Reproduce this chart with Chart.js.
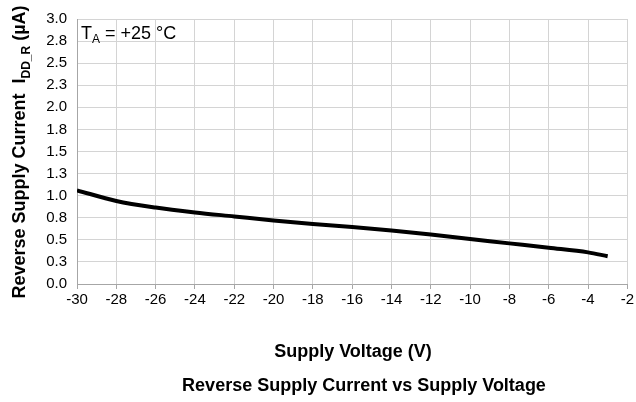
<!DOCTYPE html>
<html>
<head>
<meta charset="utf-8">
<script src="https://cdn.jsdelivr.net/npm/chart.js@4/dist/chart.umd.min.js"></script>
<style>
  html, body { margin: 0; padding: 0; background: #fff; }
  #wrap { width: 636px; height: 402px; }
</style>
</head>
<body>
<div id="wrap"><canvas id="chart" width="636" height="402"></canvas></div>
<script>
// Data
const supplyVoltage = [-30, -28, -26, -24, -22, -20, -18, -16, -14, -12, -10, -8, -6, -4, -3];
const reverseCurrent = [1.06, 0.94, 0.865, 0.81, 0.765, 0.72, 0.68, 0.645, 0.605, 0.56, 0.51, 0.46, 0.41, 0.358, 0.315];
const yTickLabels = ['0.0', '0.3', '0.5', '0.8', '1.0', '1.3', '1.5', '1.8', '2.0', '2.3', '2.5', '2.8', '3.0'];

const FONT = "'Liberation Sans', Arial, sans-serif";

// Texts that Chart.js cannot lay out itself (subscripts, fixed positions)
const labelsPlugin = {
    id: 'labels',
    afterDraw(chart) {
        const ctx = chart.ctx;
        const area = chart.chartArea;
        ctx.save();
        ctx.fillStyle = '#000';
        ctx.textBaseline = 'alphabetic';

        // T_A = +25 °C annotation
        ctx.font = '18px ' + FONT;
        let x = area.left + 4, y = area.top + 20;
        ctx.fillText('T', x, y);
        x += ctx.measureText('T').width;
        ctx.font = '12px ' + FONT;
        ctx.fillText('A', x, y + 4);
        x += ctx.measureText('A').width;
        ctx.font = '18px ' + FONT;
        ctx.fillText(' = +25 °C', x, y);

        // x axis title and chart title
        ctx.textAlign = 'center';
        ctx.font = 'bold 18px ' + FONT;
        ctx.fillText('Supply Voltage (V)', 353, 357);
        ctx.fillText('Reverse Supply Current vs Supply Voltage', 364, 391);

        // y axis title with subscript
        ctx.translate(25, 152);
        ctx.rotate(-Math.PI / 2);
        const parts = [
            ['Reverse Supply Current  I', 'bold 18px ', 0],
            ['DD_R', 'bold 12px ', 5],
            [' (µA)', 'bold 18px ', 0]
        ];
        let total = 0;
        parts.forEach(p => { ctx.font = p[1] + FONT; total += ctx.measureText(p[0]).width; });
        ctx.textAlign = 'left';
        let px = -total / 2;
        parts.forEach(p => {
            ctx.font = p[1] + FONT;
            ctx.fillText(p[0], px, p[2]);
            px += ctx.measureText(p[0]).width;
        });
        ctx.restore();
    }
};

new Chart(document.getElementById('chart'), {
    type: 'line',
    data: {
        datasets: [{
            data: supplyVoltage.map((v, i) => ({ x: v, y: reverseCurrent[i] })),
            borderColor: '#000',
            borderWidth: 4,
            pointRadius: 0,
            fill: false,
            cubicInterpolationMode: 'monotone'
        }]
    },
    options: {
        responsive: false,
        animation: false,
        layout: { padding: { top: 14, right: 7, left: 0, bottom: 0 } },
        scales: {
            x: {
                type: 'linear',
                min: -30,
                max: -2,
                afterFit: scale => { scale.height = 118; },
                grid: { color: '#d4d4d4', tickLength: 5, tickColor: '#a6a6a6' },
                border: { color: '#a6a6a6' },
                ticks: {
                    stepSize: 2,
                    color: '#000',
                    padding: 2,
                    maxRotation: 0,
                    font: { family: FONT, size: 15 }
                }
            },
            y: {
                min: 0,
                max: 3,
                afterFit: scale => { scale.width = 77; },
                grid: { color: '#d4d4d4', drawTicks: false },
                border: { color: '#a6a6a6' },
                ticks: {
                    stepSize: 0.25,
                    color: '#000',
                    padding: 10,
                    font: { family: FONT, size: 15 },
                    callback: (value, index) => yTickLabels[index]
                }
            }
        },
        plugins: {
            legend: { display: false },
            tooltip: { enabled: false }
        }
    },
    plugins: [labelsPlugin]
});
</script>
</body>
</html>
